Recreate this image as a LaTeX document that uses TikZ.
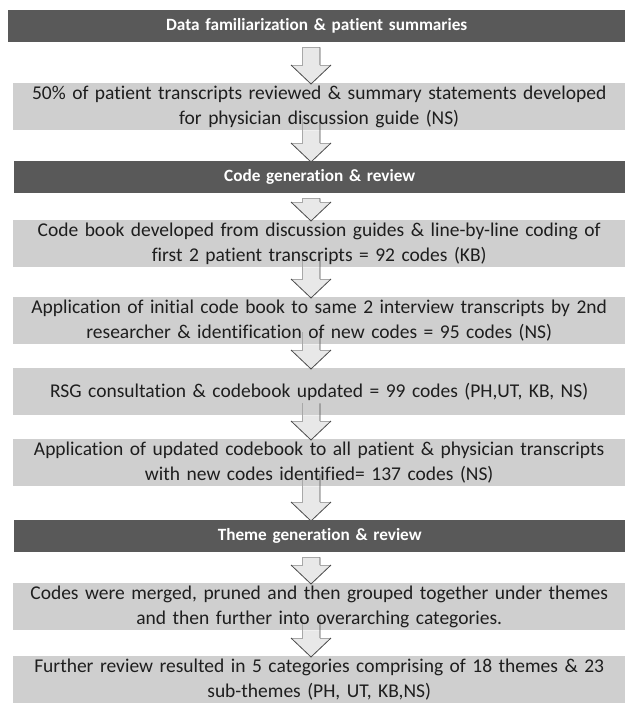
\documentclass[tikz,border=0pt]{standalone}
\usepackage{fontspec}
\setmainfont{Carlito}[Ligatures={NoCommon,NoRequired,NoContextual,NoRare},Contextuals=NoAlternate]
\usetikzlibrary{calc}
\pgfdeclarelayer{boxlayer}
\pgfdeclarelayer{arrowlayer}
\pgfsetlayers{boxlayer,arrowlayer,main}
\definecolor{hdrgray}{HTML}{595959}
\definecolor{boxgray}{HTML}{CFCFCF}
\definecolor{arrfill}{HTML}{E8E8E8}
\definecolor{arrline}{HTML}{A8A8A8}
\definecolor{arrdark}{HTML}{4A4A4A}
\definecolor{txtcol}{HTML}{1E1E1E}
\newcommand\TI{t\kern0pt i}
\tikzset{
  hdr/.style={anchor=north west, fill=hdrgray, text=white, inner sep=0pt,
    minimum height=32pt, text width=#1, align=center,
    font=\fontsize{17.2}{20}\selectfont\bfseries},
  gbox/.style={anchor=north west, text=txtcol, inner sep=0pt,
    minimum height=47pt, text width=612pt, align=center,
    font=\fontsize{19.5}{25}\selectfont},
  boxfill/.style={fill=boxgray},
  arrbody/.style={fill=arrfill},
  arrlight/.style={draw=arrline, line width=0.6pt},
  arredge/.style={draw=arrdark, line width=0.8pt, line join=miter},
}
% arrow from a header: shaft begins a little below the header
\newcommand\hdrarrow[2]{%
  \begin{pgfonlayer}{arrowlayer}
  \path[arrbody] let \p1=(#1.south), \p2=(#2.north), \p0=(ax) in
    (\x0-9pt,\y1-5pt) -- (\x0-9pt,\y2+18pt) -- (\x0-20pt,\y2+18pt) --
    (\x0,\y2-1pt) -- (\x0+20pt,\y2+18pt) -- (\x0+9pt,\y2+18pt) --
    (\x0+9pt,\y1-5pt) -- cycle;
  \path[arrlight] let \p1=(#1.south), \p2=(#2.north), \p0=(ax) in
    (\x0+9pt,\y2+18pt) -- (\x0+20pt,\y2+18pt)
    (\x0-20pt,\y2+18pt) -- (\x0-9pt,\y2+18pt) -- (\x0-9pt,\y1-5pt) -- (\x0+9pt,\y1-5pt);
  \path[arredge] let \p1=(#1.south), \p2=(#2.north), \p0=(ax) in
    (\x0+9pt,\y1-5pt) -- (\x0+9pt,\y2+18pt)
    (\x0-20pt,\y2+18pt) -- (\x0,\y2-1pt) -- (\x0+20pt,\y2+18pt);
  \end{pgfonlayer}}
% arrow from a box: shaft lines start inside the box
\newcommand\boxarrow[2]{%
  \begin{pgfonlayer}{arrowlayer}
  \path[arrbody] let \p1=(#1.south), \p2=(#2.north), \p0=(ax) in
    (\x0-9pt,\y1) -- (\x0-9pt,\y2+18pt) -- (\x0-20pt,\y2+18pt) --
    (\x0,\y2-1pt) -- (\x0+20pt,\y2+18pt) -- (\x0+9pt,\y2+18pt) --
    (\x0+9pt,\y1) -- cycle;
  \path[arrlight] let \p1=(#1.south), \p2=(#2.north), \p0=(ax) in
    (\x0+9pt,\y2+18pt) -- (\x0+20pt,\y2+18pt)
    (\x0-20pt,\y2+18pt) -- (\x0-9pt,\y2+18pt) -- (\x0-9pt,\y1+12pt);
  \path[arredge] let \p1=(#1.south), \p2=(#2.north), \p0=(ax) in
    (\x0+9pt,\y1+12pt) -- (\x0+9pt,\y2+18pt)
    (\x0-20pt,\y2+18pt) -- (\x0,\y2-1pt) -- (\x0+20pt,\y2+18pt);
  \end{pgfonlayer}}
\newcommand\fillbox[1]{%
  \begin{pgfonlayer}{boxlayer}
  \path[boxfill] (#1.north west) rectangle (#1.south east);
  \end{pgfonlayer}}
\begin{document}
\begin{tikzpicture}[x=1pt,y=-1pt]
\useasboundingbox (0,0) rectangle (625,704);
\coordinate (ax) at (311,0);
\node[hdr=617pt] (h1) at (8,10) {Data familiariza\TI{}on \& pa\TI{}ent summaries};
\node[gbox] (b1) at (13,83) {50\% of pa\TI{}ent transcripts reviewed \& summary statements developed\\for physician discussion guide (NS)};
\node[hdr=611pt] (h2) at (14,161) {Code genera\TI{}on \& review};
\node[gbox] (b2) at (13,220) {Code book developed from discussion guides \& line-by-line coding of\\first 2 pa\TI{}ent transcripts = 92 codes (KB)};
\node[gbox] (b3) at (13,297) {Applica\TI{}on of ini\TI{}al code book to same 2 interview transcripts by 2nd\\researcher \& iden\TI{}fica\TI{}on of new codes = 95 codes (NS)};
\node[gbox] (b4) at (13,368) {RSG consulta\TI{}on \& codebook updated = 99 codes (PH,UT, KB, NS)};
\node[gbox] (b5) at (13,439) {Applica\TI{}on of updated codebook to all pa\TI{}ent \& physician transcripts\\with new codes iden\TI{}fied= 137 codes (NS)};
\node[hdr=611pt] (h3) at (14,520) {Theme genera\TI{}on \& review};
\node[gbox] (b6) at (13,583) {Codes were merged, pruned and then grouped together under themes\\and then further into overarching categories.};
\node[gbox] (b7) at (13,656) {Further review resulted in 5 categories comprising of 18 themes \& 23\\sub-themes (PH, UT, KB,NS)};
\fillbox{b1}\fillbox{b2}\fillbox{b3}\fillbox{b4}\fillbox{b5}\fillbox{b6}\fillbox{b7}
\hdrarrow{h1}{b1}
\boxarrow{b1}{h2}
\hdrarrow{h2}{b2}
\boxarrow{b2}{b3}
\boxarrow{b3}{b4}
\boxarrow{b4}{b5}
\boxarrow{b5}{h3}
\hdrarrow{h3}{b6}
\boxarrow{b6}{b7}
\end{tikzpicture}
\end{document}
